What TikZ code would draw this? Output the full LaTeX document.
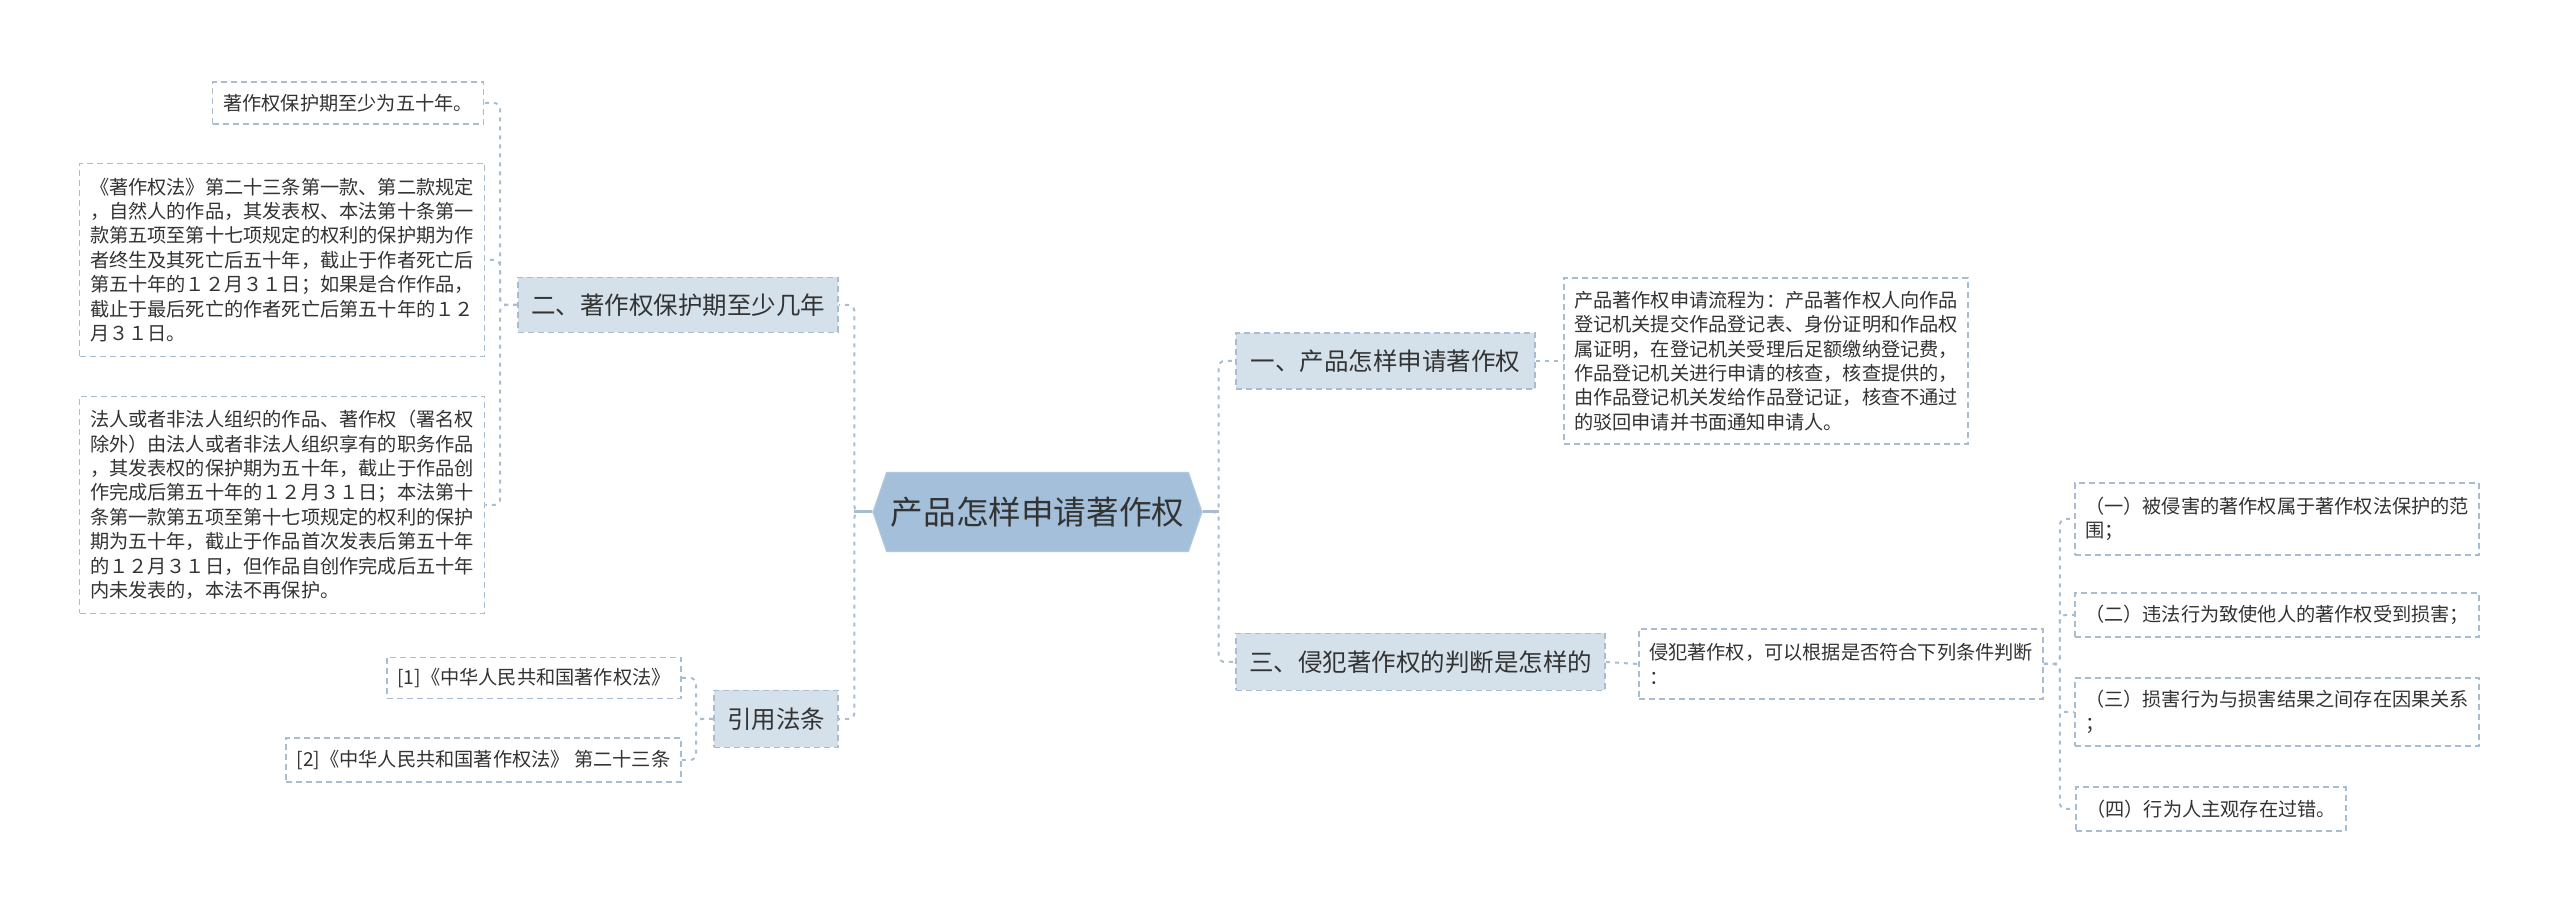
\documentclass[tikz,border=0pt]{standalone}
\usepackage{fontspec}
\usepackage{tikz}
\usetikzlibrary{shapes.symbols}
\newfontfamily\cjkfont{Noto Sans CJK SC}
\definecolor{linecol}{HTML}{A9BDD0}
\definecolor{branchfill}{HTML}{D5E1EA}
\definecolor{mainfill}{HTML}{A3BFDA}
\definecolor{textcol}{HTML}{333333}

\begin{document}
\begin{tikzpicture}[
    x=0.5pt, y=-0.5pt,
    % Kiểu các nút
    main_node/.style={signal, signal to=east and west, signal pointer angle=142, fill=mainfill, draw=mainfill!85!white, line width=0.6pt, inner sep=0pt, minimum width=164.5pt, minimum height=39.5pt, font=\cjkfont\fontsize{16.3}{20}\selectfont, text=textcol},
    branch_node/.style={rectangle, draw=linecol, fill=branchfill, line width=0.9pt, dash pattern=on 3pt off 2pt, inner sep=0pt, font=\cjkfont\fontsize{12.25}{15}\selectfont, text=textcol},
    leaf_node/.style={rectangle, draw=linecol, fill=white, line width=0.8pt, dash pattern=on 3pt off 2pt, inner xsep=5pt, inner ysep=3pt, align=left, font=\cjkfont\fontsize{9.6}{12.2}\selectfont, text=textcol},
    % Kiểu đường nối
    link/.style={draw=linecol, line width=1pt, dash pattern=on 2pt off 2.5pt, rounded corners=3pt},
    stub/.style={draw=linecol, line width=1.5pt}
]
    \useasboundingbox (0,0) rectangle (2560,913);

    % --- 1. NÚT TRUNG TÂM ---
    \node[main_node] (main) at (1037.5, 512) {产品怎样申请著作权};

    % --- 2. CÁC NHÁNH ---
    \node[branch_node, minimum width=160pt, minimum height=27.5pt] (brA) at (678, 305) {二、著作权保护期至少几年};
    \node[branch_node, minimum width=62pt, minimum height=28.5pt] (brC) at (776, 719) {引用法条};
    \node[branch_node, minimum width=149.5pt, minimum height=28pt] (brB1) at (1385.5, 361) {一、产品怎样申请著作权};
    \node[branch_node, minimum width=184.5pt, minimum height=28.5pt] (brB2) at (1420.5, 662) {三、侵犯著作权的判断是怎样的};

    % --- 3. CÁC NÚT LÁ ---
    \node[leaf_node, minimum width=135.5pt, minimum height=21pt] (A1) at (348, 103) {著作权保护期至少为五十年。};
    \node[leaf_node, minimum width=202.5pt, minimum height=96.5pt] (A2) at (282, 260) {%
        《著作权法》第二十三条第一款、第二款规定\\
        ，自然人的作品，其发表权、本法第十条第一\\
        款第五项至第十七项规定的权利的保护期为作\\
        者终生及其死亡后五十年，截止于作者死亡后\\
        第五十年的１２月３１日；如果是合作作品，\\
        截止于最后死亡的作者死亡后第五十年的１２\\
        月３１日。};
    \node[leaf_node, minimum width=202.5pt, minimum height=108.5pt] (A3) at (282, 505) {%
        法人或者非法人组织的作品、著作权（署名权\\
        除外）由法人或者非法人组织享有的职务作品\\
        ，其发表权的保护期为五十年，截止于作品创\\
        作完成后第五十年的１２月３１日；本法第十\\
        条第一款第五项至第十七项规定的权利的保护\\
        期为五十年，截止于作品首次发表后第五十年\\
        的１２月３１日，但作品自创作完成后五十年\\
        内未发表的，本法不再保护。};
    \node[leaf_node, minimum width=147pt, minimum height=20.5pt] (C1) at (534, 678) {[1]《中华人民共和国著作权法》};
    \node[leaf_node, minimum width=197.5pt, minimum height=22pt] (C2) at (483.5, 760) {[2]《中华人民共和国著作权法》 第二十三条};

    \node[leaf_node, minimum width=202pt, minimum height=83pt] (B1) at (1766, 361) {%
        产品著作权申请流程为：产品著作权人向作品\\
        登记机关提交作品登记表、身份证明和作品权\\
        属证明，在登记机关受理后足额缴纳登记费，\\
        作品登记机关进行申请的核查，核查提供的，\\
        由作品登记机关发给作品登记证，核查不通过\\
        的驳回申请并书面通知申请人。};
    \node[leaf_node, minimum width=200pt, minimum height=35pt] (B2) at (1841, 664) {%
        侵犯著作权，可以根据是否符合下列条件判断\\
        ：};

    \node[leaf_node, minimum width=200pt, minimum height=36pt] (D1) at (2277, 519) {%
        （一）被侵害的著作权属于著作权法保护的范\\
        围；};
    \node[leaf_node, minimum width=200pt, minimum height=22pt] (D2) at (2277, 615) {（二）违法行为致使他人的著作权受到损害；};
    \node[leaf_node, minimum width=200pt, minimum height=34pt] (D3) at (2277, 712) {%
        （三）损害行为与损害结果之间存在因果关系\\
        ；};
    \node[leaf_node, minimum width=134pt, minimum height=22pt] (D4) at (2211, 809) {（四）行为人主观存在过错。};

    % --- 4. ĐƯỜNG NỐI ---
    \foreach \b in {brA, brC} {
        \draw[link] (main.west) -- ++(-18,0) |- (\b.east);
    }
    \foreach \b in {brB1, brB2} {
        \draw[link] (main.east) -- ++(16,0) |- (\b.west);
    }
    \draw[stub] (main.west) -- ++(-18,0);
    \draw[stub] (main.east) -- ++(16,0);

    \foreach \c in {A1, A2, A3} {
        \draw[link] (brA.west) -- ++(-17,0) |- (\c.east);
    }
    \foreach \c in {C1, C2} {
        \draw[link] (brC.west) -- ++(-17,0) |- (\c.east);
    }
    \draw[link] (brB1.east) -- (B1.west);
    \draw[link] (brB2.east) -- (B2.west);
    \foreach \c in {D1, D2, D3, D4} {
        \draw[link] (B2.east) -- ++(16,0) |- (\c.west);
    }

\end{tikzpicture}
\end{document}
